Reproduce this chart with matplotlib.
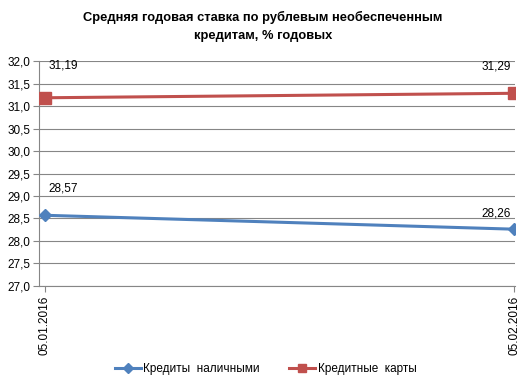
import matplotlib
matplotlib.use("Agg")
import matplotlib.pyplot as plt

dates = ["05.01.2016", "05.02.2016"]
cash_loans = [28.57, 28.26]
credit_cards = [31.19, 31.29]
series_names = ["Кредиты  наличными", "Кредитные  карты"]
title = "Средняя годовая ставка по рублевым необеспеченным\nкредитам, % годовых"

plt.rcParams["font.family"] = ["Liberation Sans", "DejaVu Sans"]

fig = plt.figure(figsize=(5.31, 3.84), dpi=100)
ax = fig.add_axes([0.0734, 0.256, 0.8966, 0.584])

x = list(range(len(dates)))
ax.plot(x, cash_loans, color="#4F81BD", linewidth=2.2, marker="D",
        markersize=6, label=series_names[0], zorder=3)
ax.plot(x, credit_cards, color="#C0504D", linewidth=2.2, marker="s",
        markersize=8, label=series_names[1], zorder=3)

# label offsets (points) like excel puts them
offsets = {
    (0, 0): (13, 19.5), (0, 1): (-13, 11.5),
    (1, 0): (13, 23), (1, 1): (-13, 19.5),
}
for s, vals in enumerate([cash_loans, credit_cards]):
    for i, v in enumerate(vals):
        ax.annotate(f"{v:.2f}".replace(".", ","), (i, v),
                    xytext=offsets[(s, i)], textcoords="offset points",
                    ha="center", va="center", fontsize=8.5)

ax.set_xlim(-0.0128, 1.002)
ax.set_ylim(27.0, 32.0)
yt = [27.0 + 0.5 * k for k in range(11)]
ax.set_yticks(yt)
ax.set_yticklabels([f"{t:.1f}".replace(".", ",") for t in yt], fontsize=8.5)
ax.set_xticks(x)
ax.set_xticklabels(dates, rotation=90, fontsize=8.5)
ax.tick_params(axis="y", length=4, color="#868686", pad=2)
ax.tick_params(axis="x", length=4, color="#868686", pad=3)

ax.grid(axis="y", color="#868686", linewidth=0.8)
ax.set_axisbelow(True)
for side in ["top", "right"]:
    ax.spines[side].set_visible(False)
for side in ["left", "bottom"]:
    ax.spines[side].set_color("#868686")
    ax.spines[side].set_linewidth(0.8)

fig.text(0.495, 0.972, title, ha="center", va="top", fontsize=9.3,
         fontweight="bold", linespacing=1.65)

fig.legend(loc="center", bbox_to_anchor=(0.5, 0.04), ncol=2, frameon=False,
           fontsize=8.5, handlelength=2.2, columnspacing=2.5,
           handletextpad=0.2, markerscale=0.8)

fig.savefig("out.png", dpi=100)
